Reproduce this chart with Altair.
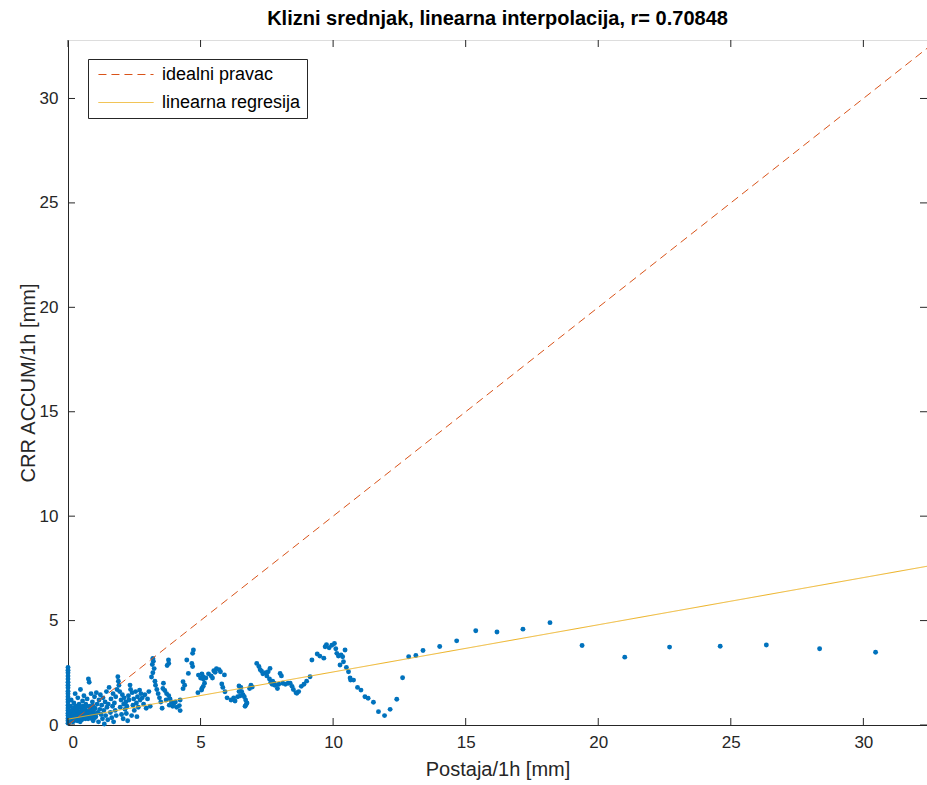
import altair as alt
import pandas as pd

# ---------------- data ----------------
title_text = "Klizni srednjak, linearna interpolacija, r= 0.70848"
x_title = "Postaja/1h [mm]"
y_title = "CRR ACCUM/1h [mm]"
x_max = 32.4
y_max = 32.8
tick_values = [0, 5, 10, 15, 20, 25, 30]

# points at x = 0 (vertical stack)
x0_y = [0.08, 0.2, 0.31, 0.45, 0.56, 0.7, 0.82, 0.95, 1.1, 1.22, 1.35, 1.5,
        1.62, 1.78, 1.9, 2.05, 2.2, 2.35, 2.5, 2.62, 2.75]

cluster = [
    (0.05, 0.3), (0.08, 0.6), (0.1, 0.9), (0.12, 1.2), (0.15, 0.45), (0.18, 0.15), (0.2, 0.75),
    (0.22, 1.05), (0.25, 0.35), (0.27, 1.5), (0.3, 0.55), (0.32, 0.9), (0.35, 0.2), (0.37, 1.3),
    (0.4, 0.65), (0.42, 1.0), (0.45, 0.4), (0.47, 1.7), (0.5, 0.8), (0.52, 0.25), (0.55, 1.15),
    (0.57, 0.55), (0.6, 1.4), (0.62, 0.85), (0.65, 0.3), (0.67, 1.0), (0.7, 0.6), (0.72, 1.25),
    (0.75, 0.45), (0.77, 2.2), (0.8, 2.05), (0.82, 0.9), (0.85, 0.35), (0.87, 1.5), (0.9, 0.7),
    (0.92, 1.1), (0.95, 0.2), (0.97, 0.5), (1.0, 1.35), (1.02, 0.8), (1.05, 0.4), (1.07, 1.55),
    (1.1, 1.0), (1.12, 0.6), (1.15, 0.15), (1.17, 1.2), (1.2, 0.75), (1.22, 1.45), (1.25, 0.5),
    (1.27, 0.95), (1.3, 0.3), (1.32, 1.3), (1.35, 0.7), (1.37, 0.05), (1.4, 1.1), (1.42, 0.45),
    (1.45, 1.6), (1.47, 0.85), (1.5, 0.25), (1.52, 1.0),
    (0.03, 0.12), (0.06, 0.22), (0.09, 0.4), (0.11, 0.55), (0.14, 0.7), (0.16, 0.3), (0.19, 0.5),
    (0.21, 0.18), (0.24, 0.62), (0.26, 0.85), (0.29, 0.28), (0.31, 0.42), (0.34, 0.7), (0.36, 0.5),
    (0.39, 0.32), (0.41, 0.85), (0.44, 0.6), (0.46, 0.15), (0.49, 0.52), (0.51, 0.38), (0.54, 0.7),
    (0.56, 0.9), (0.59, 0.45), (0.61, 0.6), (0.64, 0.75), (0.66, 0.5), (0.69, 0.35), (0.71, 0.88),
    (0.74, 0.65), (0.76, 0.3), (0.79, 0.55), (0.81, 0.42), (0.84, 0.75), (0.86, 0.62), (0.89, 0.48),
    (0.91, 0.3), (0.94, 0.9), (0.96, 0.7), (0.99, 0.55), (1.01, 0.35),
]

mid = [
    (1.55, 1.8), (1.6, 0.6), (1.62, 1.25), (1.65, 0.35), (1.68, 0.9), (1.7, 1.5), (1.72, 0.15),
    (1.75, 1.05), (1.78, 0.7), (1.8, 1.35), (1.82, 0.45), (1.85, 1.7), (1.88, 2.31), (1.9, 2.1),
    (1.92, 1.9), (1.95, 1.6), (1.97, 0.85), (2.0, 1.2), (2.02, 0.5), (2.05, 1.45), (2.08, 0.3),
    (2.1, 1.0), (2.12, 1.3), (2.15, 0.75), (2.18, 1.1), (2.2, 0.55), (2.22, 0.9), (2.25, 0.2),
    (2.28, 1.4), (2.3, 1.2), (2.34, 1.91), (2.36, 1.7), (2.4, 0.45), (2.42, 1.55), (2.45, 0.95),
    (2.48, 1.25), (2.5, 0.7), (2.55, 1.6), (2.58, 1.05), (2.6, 0.4), (2.62, 1.35), (2.65, 0.85),
    (2.7, 1.67), (2.72, 1.2), (2.75, 1.5), (2.8, 1.3), (2.85, 1.0), (2.9, 1.45), (2.95, 0.8),
    (3.0, 1.25), (3.05, 1.6), (3.1, 0.9),
    (3.2, 3.19), (3.22, 3.05), (3.18, 2.9), (3.25, 2.7), (3.2, 2.5), (3.15, 2.3), (3.28, 2.1),
    (3.3, 1.9), (3.35, 1.7), (3.4, 1.5), (3.45, 1.3),
    (3.6, 2.0), (3.58, 1.75), (3.65, 1.65), (3.72, 1.5), (3.8, 1.4), (3.85, 1.25), (3.9, 1.1),
    (3.82, 0.95), (3.79, 3.11), (3.8, 2.95), (3.74, 2.85), (3.5, 1.1), (3.55, 0.8), (3.7, 1.2),
    (3.95, 0.9), (4.0, 1.05),
    (4.48, 3.11), (4.67, 2.95), (4.7, 2.8), (4.54, 2.47), (4.34, 2.07), (4.4, 1.9), (4.34, 1.74),
    (4.23, 1.2), (4.2, 0.93), (4.23, 0.69), (4.1, 0.85), (4.05, 1.1), (4.92, 2.39), (5.0, 2.25),
    (5.1, 2.2), (5.05, 2.45), (5.04, 1.67), (4.9, 1.55), (4.73, 3.59), (4.7, 3.43),
    (5.1, 2.31), (5.2, 2.25), (5.3, 2.45), (5.4, 2.35), (5.5, 2.6), (5.55, 2.52), (5.45, 2.25),
    (5.15, 2.0), (5.1, 1.85), (5.05, 1.75), (5.8, 1.96), (5.84, 1.8), (5.92, 1.59), (5.75, 2.55),
    (5.9, 2.4), (5.6, 2.7), (5.7, 2.65),
    (6.0, 1.3), (6.15, 1.2), (6.3, 1.15), (6.25, 1.3), (6.4, 1.35), (6.45, 1.87), (6.52, 1.8),
    (6.45, 1.6), (6.55, 1.6), (6.6, 1.45), (6.5, 1.4), (6.65, 1.35), (6.7, 1.2), (6.75, 1.05),
    (6.68, 0.9), (6.72, 0.98), (6.9, 1.9), (6.95, 1.82), (6.85, 1.75),
    (7.12, 2.95), (7.2, 2.8), (7.25, 2.65), (7.3, 2.58), (7.35, 2.45), (7.45, 2.5), (7.5, 2.35),
    (7.55, 2.55), (7.6, 2.2), (7.62, 2.71), (7.65, 2.05), (7.7, 1.95), (7.72, 2.1), (7.8, 1.9),
    (7.78, 2.0), (7.9, 1.75), (7.95, 1.95), (8.0, 2.47), (8.05, 2.35), (8.1, 2.0), (8.2, 1.95),
]

tail = [
    (8.3, 2.0), (8.38, 2.0), (8.45, 1.85), (8.5, 1.7), (8.6, 1.55), (8.63, 1.52), (8.7, 1.6),
    (8.8, 1.85), (8.9, 1.95), (9.0, 2.1), (9.13, 2.31), (9.2, 3.11), (9.4, 3.4), (9.5, 3.3),
    (9.65, 3.2), (9.7, 3.75), (9.75, 3.85), (9.85, 3.7), (9.95, 3.82), (10.05, 3.9), (10.1, 3.65),
    (10.14, 3.43), (10.2, 3.3), (10.3, 3.35), (10.39, 3.03), (10.45, 3.59), (10.36, 3.27),
    (10.26, 2.87), (10.5, 2.75), (10.58, 2.55), (10.64, 2.25), (10.66, 2.15), (10.77, 2.15),
    (10.92, 1.8), (11.05, 1.67), (11.2, 1.35), (11.32, 1.28), (11.52, 1.09), (11.71, 0.64),
    (11.94, 0.45), (12.15, 0.75), (12.4, 1.23), (12.62, 2.26), (12.85, 3.27), (13.12, 3.33),
    (13.39, 3.57), (14.02, 3.76), (14.66, 4.03), (15.38, 4.51), (16.18, 4.45), (17.16, 4.59),
    (18.18, 4.9), (19.39, 3.81), (21.0, 3.25), (22.69, 3.73), (24.6, 3.77), (26.34, 3.83),
    (28.35, 3.65), (30.46, 3.48),
]

series_names = ["idealni pravac", "linearna regresija"]
series_colors = ["#D95319", "#EDB120"]
ideal_x = [0, x_max]
ideal_y = [0, x_max]
reg_x = [0, x_max]
reg_y = [0.28, 7.6]

# ---------------- tables ----------------
pts = [(0.0, v) for v in x0_y] + cluster + mid + tail
points_df = pd.DataFrame(pts, columns=["x", "y"])
lines_df = pd.DataFrame(
    {"x": ideal_x + reg_x, "y": ideal_y + reg_y,
     "s": [series_names[0]] * 2 + [series_names[1]] * 2}
)
ticks_df = pd.DataFrame({"t": tick_values})

W, H = 859, 685
FONT = "Liberation Sans"
AX = "#262626"

xs = alt.Scale(domain=[0, x_max], nice=False, zero=False)
ys = alt.Scale(domain=[0, y_max], nice=False, zero=False)

x_axis = alt.Axis(values=tick_values, grid=False, ticks=False, tickSize=0,
                  labelPadding=9, labelFontSize=17, labelFont=FONT, labelColor=AX,
                  title=x_title, titleFontSize=20, titleFont=FONT, titleFontWeight="normal",
                  titleColor=AX, titlePadding=9, domainColor=AX)
y_axis = alt.Axis(values=tick_values, grid=False, ticks=False, tickSize=0,
                  labelPadding=10, labelFontSize=17, labelFont=FONT, labelColor=AX,
                  title=y_title, titleFontSize=20, titleFont=FONT, titleFontWeight="normal",
                  titleColor=AX, titlePadding=1, domainColor=AX)

scatter = alt.Chart(points_df).mark_circle(size=24, opacity=1, color="#0072BD").encode(
    x=alt.X("x:Q", scale=xs, axis=x_axis),
    y=alt.Y("y:Q", scale=ys, axis=y_axis),
)

legend_kw = dict(title=None, orient="none", legendX=20, legendY=19,
                 symbolType="M-0.56,0H5.56", symbolSize=324,
                 symbolStrokeWidth=1, labelFontSize=18, labelFont=FONT,
                 labelColor="black", strokeColor="#262626", fillColor="white",
                 padding=6, rowPadding=9, labelOffset=49)

lines = alt.Chart(lines_df).mark_line(strokeWidth=1, clip=True).encode(
    x=alt.X("x:Q", scale=xs),
    y=alt.Y("y:Q", scale=ys),
    color=alt.Color("s:N", scale=alt.Scale(domain=series_names, range=series_colors),
                    legend=alt.Legend(**legend_kw)),
    strokeDash=alt.StrokeDash("s:N", scale=alt.Scale(domain=series_names,
                                                      range=[[8, 5], [1, 0]]),
                              legend=alt.Legend(**legend_kw)),
    detail="s:N",
)

tb = alt.Chart(ticks_df).mark_rule(color=AX, strokeWidth=1)
xt_bottom = tb.encode(x=alt.X("t:Q", scale=xs), y=alt.value(H), y2=alt.value(H - 7))
xt_top = tb.encode(x=alt.X("t:Q", scale=xs), y=alt.value(0), y2=alt.value(7))
yt_left = tb.encode(y=alt.Y("t:Q", scale=ys), x=alt.value(0), x2=alt.value(7))
yt_right = tb.encode(y=alt.Y("t:Q", scale=ys), x=alt.value(W), x2=alt.value(W - 7))

chart = alt.layer(scatter, lines, xt_bottom, xt_top, yt_left, yt_right).properties(
    width=W, height=H,
    title=alt.TitleParams(title_text, fontSize=20, font=FONT, fontWeight="bold",
                          color="black", offset=11, anchor="middle"),
    autosize=alt.AutoSizeParams(type="none"),
    padding={"left": 68, "top": 40, "right": 0, "bottom": 60},
).configure_view(stroke=AX, strokeWidth=1).configure(background="white")

chart.save("out.html", embed_options={"renderer": "svg", "actions": False})
